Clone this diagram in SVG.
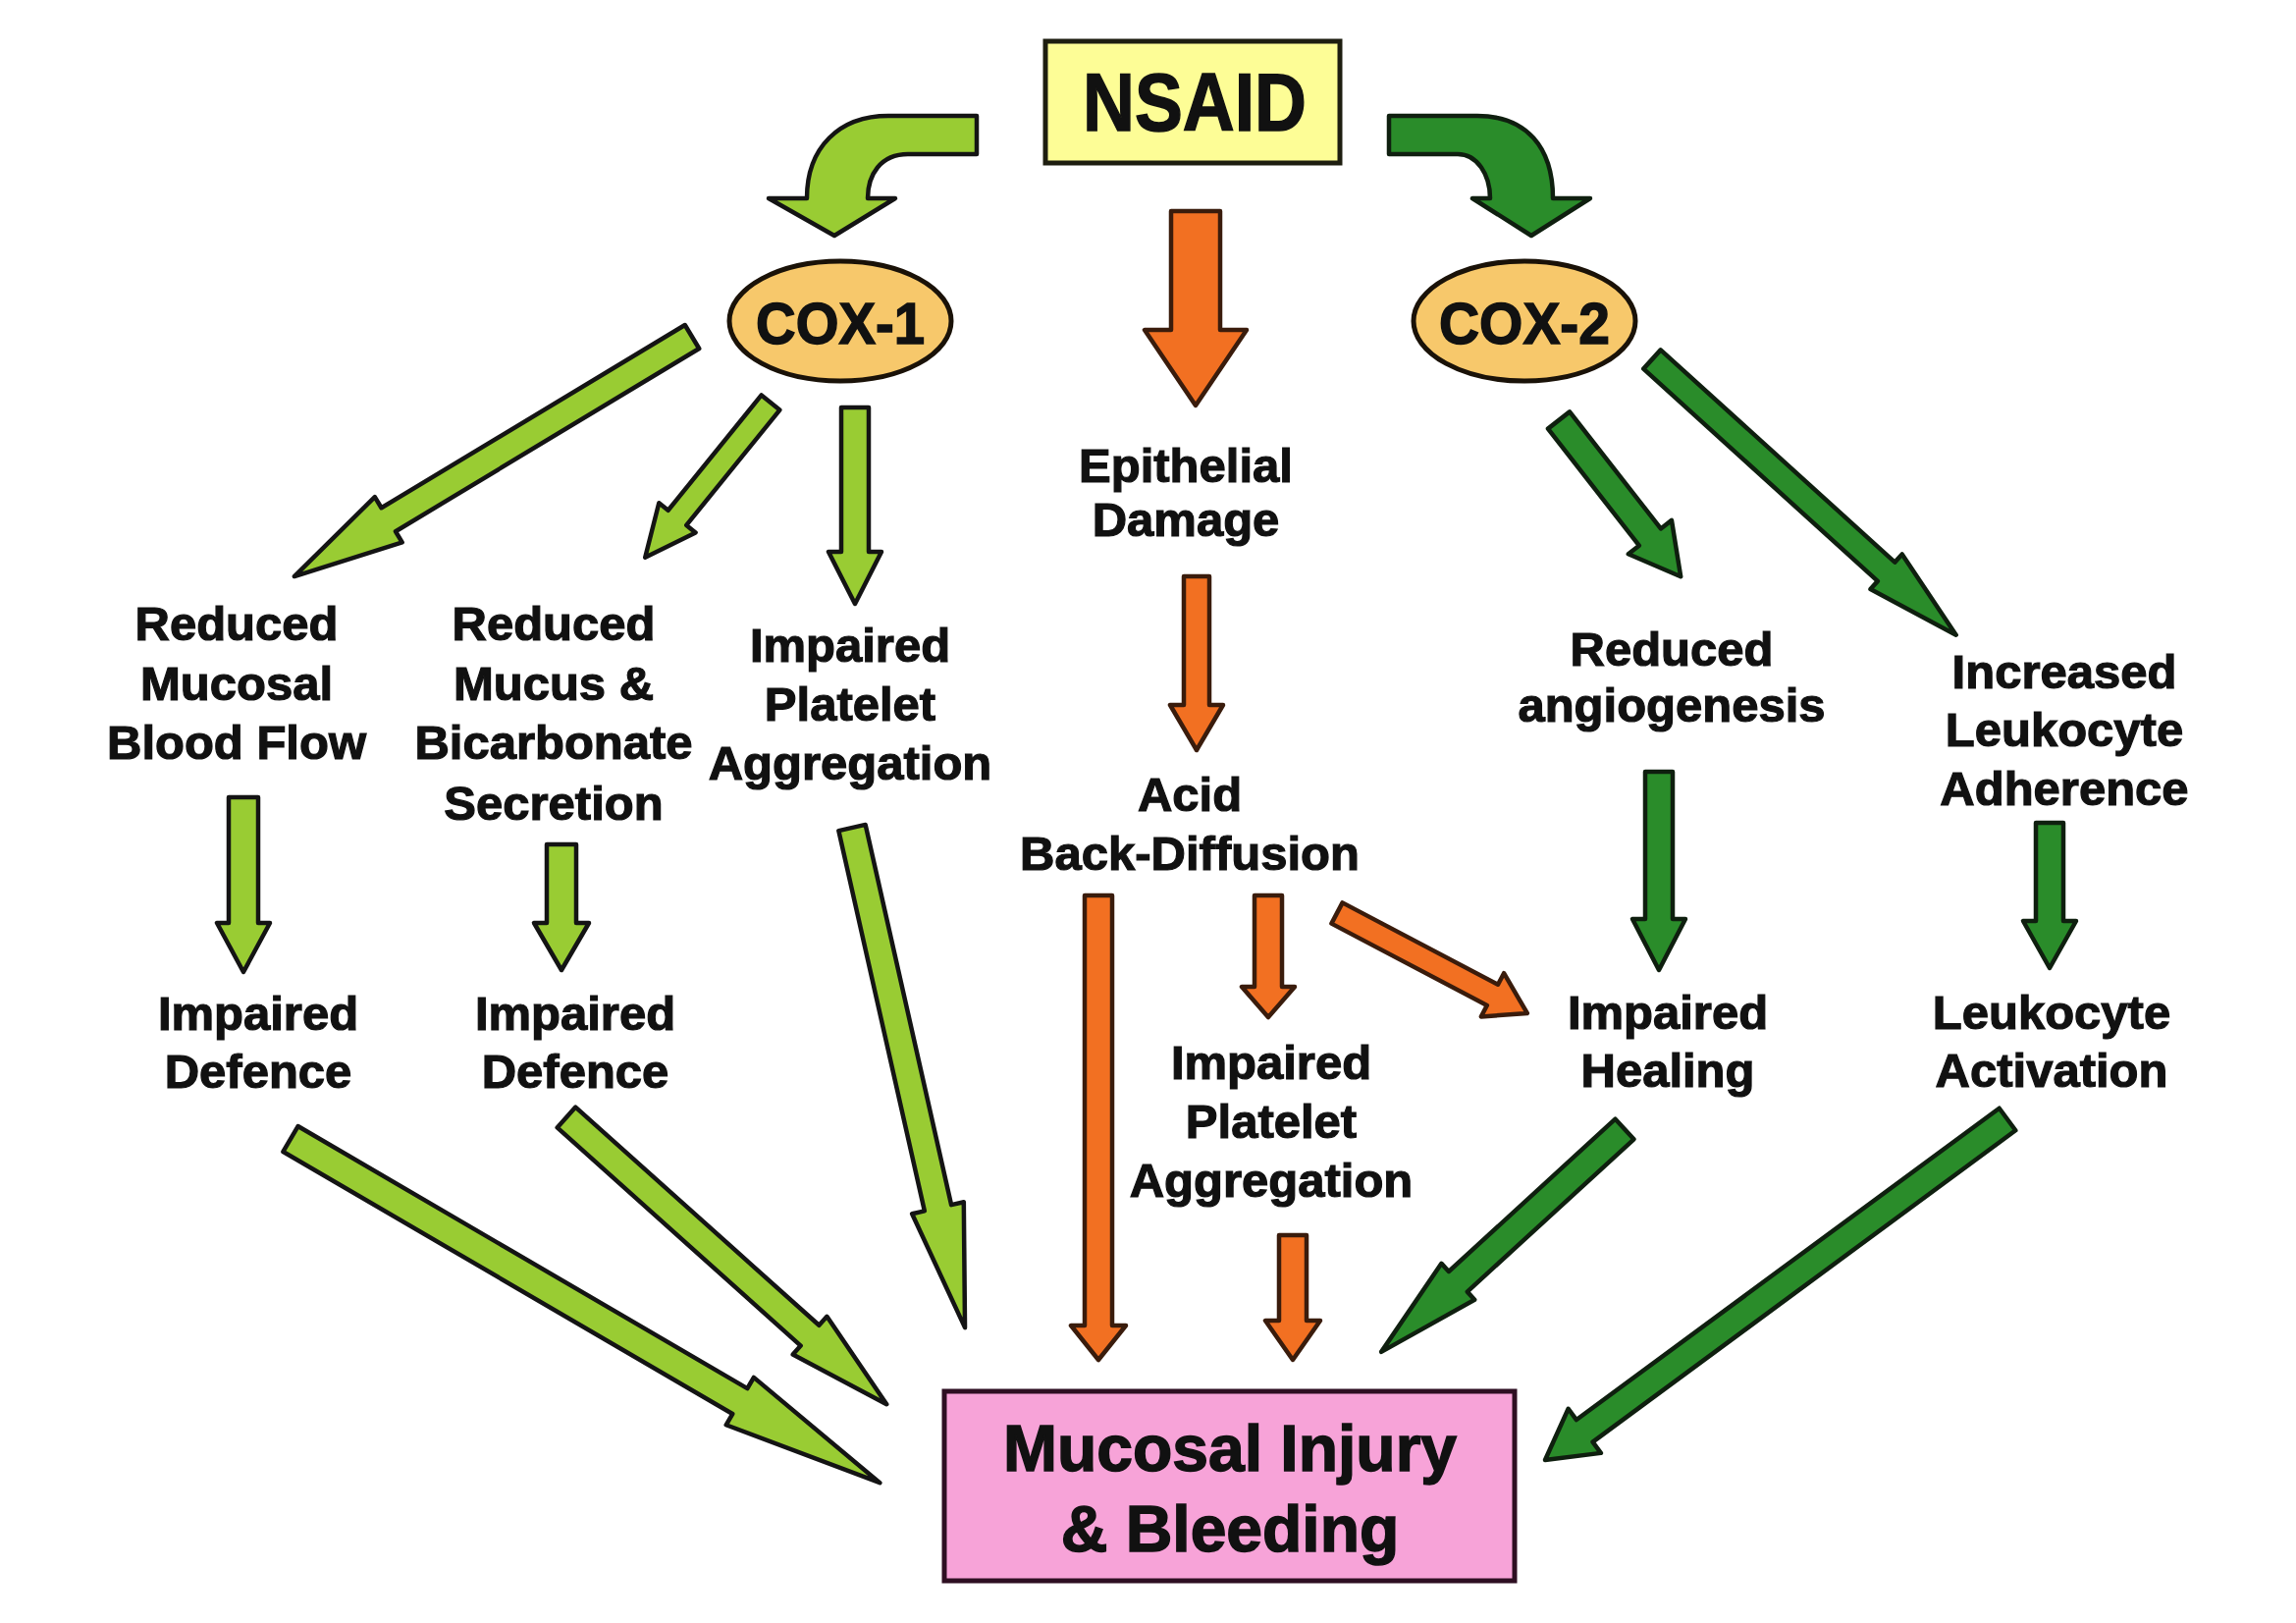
<svg xmlns="http://www.w3.org/2000/svg" width="2339" height="1653" viewBox="0 0 2339 1653">
<style>
.lg{fill:#99cc33;stroke:#141414;stroke-width:4.5;stroke-linejoin:round}
.dg{fill:#2a8c2a;stroke:#0f1f0f;stroke-width:4.5;stroke-linejoin:round}
.or{fill:#f27022;stroke:#3a1c0c;stroke-width:4.5;stroke-linejoin:round}
.t{font-family:"Liberation Sans",Arial,sans-serif;font-weight:bold;font-size:49px;text-anchor:middle;fill:#111;stroke:#111;stroke-width:1.2}
.big{font-family:"Liberation Sans",Arial,sans-serif;font-weight:bold;text-anchor:middle;fill:#111;stroke:#111;stroke-width:1.5}
.ell{fill:#f7c86b;stroke:#1a1208;stroke-width:5}
</style>
<rect width="2339" height="1653" fill="#ffffff"/>

<g id="connectors">
  <path class="lg" d="M995,118 L905,118 C855,118 822,150 822,202 L783,202 L850,240 L912,202 L884,202 C884,178 897,157 925,157 L995,157 Z"/>
  <path class="dg" d="M1415,118 L1505,118 C1555,118 1582,150 1582,202 L1620,202 L1560,240 L1500,202 L1518,202 C1518,178 1505,157 1485,157 L1415,157 Z"/>
  <polygon class="or" transform="translate(1218,215) rotate(90)" points="0,-25 121,-25 121,-52 198,0 121,52 121,25 0,25"/>
  <polygon class="lg" transform="translate(705,343) rotate(148.94)" points="0,-14 361,-14 361,-27 473,0 361,27 361,14 0,14"/>
  <polygon class="lg" transform="translate(785,410) rotate(129.01)" points="0,-12 151,-12 151,-24 203,0 151,24 151,12 0,12"/>
  <polygon class="lg" transform="translate(871,415) rotate(90)" points="0,-14 147,-14 147,-27 200,0 147,27 147,14 0,14"/>
  <polygon class="lg" transform="translate(248,812) rotate(90)" points="0,-15 128,-15 128,-27 178,0 128,27 128,15 0,15"/>
  <polygon class="lg" transform="translate(572,860) rotate(90)" points="0,-15 80,-15 80,-28 128,0 80,28 80,15 0,15"/>
  <polygon class="lg" transform="translate(868,843) rotate(77.27)" points="0,-14 397,-14 397,-27 522,0 397,27 397,14 0,14"/>
  <polygon class="lg" transform="translate(296,1160) rotate(30.26)" points="0,-15 530,-15 530,-28 695,0 530,28 530,15 0,15"/>
  <polygon class="lg" transform="translate(577,1138) rotate(41.85)" points="0,-14 333,-14 333,-26 438,0 333,26 333,14 0,14"/>
  <polygon class="or" transform="translate(1219,587) rotate(90)" points="0,-13 131,-13 131,-27 177,0 131,27 131,13 0,13"/>
  <polygon class="or" transform="translate(1119,912) rotate(90)" points="0,-14 438,-14 438,-28 473,0 438,28 438,14 0,14"/>
  <polygon class="or" transform="translate(1292,912) rotate(90)" points="0,-14 93,-14 93,-27 124,0 93,27 93,14 0,14"/>
  <polygon class="or" transform="translate(1362,930) rotate(27.74)" points="0,-12 179,-12 179,-25 219,0 179,25 179,12 0,12"/>
  <polygon class="or" transform="translate(1317,1258) rotate(90)" points="0,-14 87,-14 87,-28 127,0 87,28 87,14 0,14"/>
  <polygon class="dg" transform="translate(1588,428) rotate(52.05)" points="0,-14 151,-14 151,-28 202,0 151,28 151,14 0,14"/>
  <polygon class="dg" transform="translate(1683,366) rotate(42.19)" points="0,-13 322,-13 322,-24 418,0 322,24 322,13 0,13"/>
  <polygon class="dg" transform="translate(1690,786) rotate(90)" points="0,-14 150,-14 150,-27 202,0 150,27 150,14 0,14"/>
  <polygon class="dg" transform="translate(2088,838) rotate(90)" points="0,-14 100,-14 100,-27 148,0 100,27 100,14 0,14"/>
  <polygon class="dg" transform="translate(1655,1150) rotate(137.53)" points="0,-14 230,-14 230,-25 336,0 230,25 230,14 0,14"/>
  <polygon class="dg" transform="translate(2045,1140) rotate(143.62)" points="0,-14 535,-14 535,-28 585,0 535,28 535,14 0,14"/>
</g>

<g id="nsaid">
  <rect x="1065" y="42" width="300" height="124" fill="#fdfd96" stroke="#1e1e10" stroke-width="5"/>
  <text class="big" x="1217" y="133" font-size="84" textLength="228" lengthAdjust="spacingAndGlyphs">NSAID</text>
</g>

<g id="cox1">
  <ellipse class="ell" cx="856" cy="327" rx="113" ry="61"/>
  <text class="big" x="856" y="350" font-size="60" textLength="172" lengthAdjust="spacingAndGlyphs">COX-1</text>
</g>

<g id="cox2">
  <ellipse class="ell" cx="1553" cy="327" rx="113" ry="61"/>
  <text class="big" x="1553" y="350" font-size="60" textLength="174" lengthAdjust="spacingAndGlyphs">COX-2</text>
</g>

<g id="reduced-blood-flow">
  <text class="t" x="241" y="652">Reduced</text>
  <text class="t" x="241" y="713">Mucosal</text>
  <text class="t" x="241" y="773">Blood Flow</text>
</g>

<g id="reduced-mucus">
  <text class="t" x="564" y="652">Reduced</text>
  <text class="t" x="564" y="713">Mucus &amp;</text>
  <text class="t" x="564" y="773">Bicarbonate</text>
  <text class="t" x="564" y="835">Secretion</text>
</g>

<g id="impaired-platelet-1">
  <text class="t" x="866" y="674">Impaired</text>
  <text class="t" x="866" y="734">Platelet</text>
  <text class="t" x="866" y="794">Aggregation</text>
</g>

<g id="epithelial-damage">
  <text class="t" x="1208" y="491">Epithelial</text>
  <text class="t" x="1208" y="546">Damage</text>
</g>

<g id="acid-back-diffusion">
  <text class="t" x="1212" y="826">Acid</text>
  <text class="t" x="1212" y="886">Back-Diffusion</text>
</g>

<g id="impaired-platelet-2">
  <text class="t" x="1295" y="1099">Impaired</text>
  <text class="t" x="1295" y="1159">Platelet</text>
  <text class="t" x="1295" y="1219">Aggregation</text>
</g>

<g id="reduced-angiogenesis">
  <text class="t" x="1703" y="678">Reduced</text>
  <text class="t" x="1703" y="735">angiogenesis</text>
</g>

<g id="increased-leukocyte">
  <text class="t" x="2103" y="701">Increased</text>
  <text class="t" x="2103" y="760">Leukocyte</text>
  <text class="t" x="2103" y="820">Adherence</text>
</g>

<g id="impaired-defence-1">
  <text class="t" x="263" y="1049">Impaired</text>
  <text class="t" x="263" y="1108">Defence</text>
</g>

<g id="impaired-defence-2">
  <text class="t" x="586" y="1049">Impaired</text>
  <text class="t" x="586" y="1108">Defence</text>
</g>

<g id="impaired-healing">
  <text class="t" x="1699" y="1048">Impaired</text>
  <text class="t" x="1699" y="1107">Healing</text>
</g>

<g id="leukocyte-activation">
  <text class="t" x="2090" y="1048">Leukocyte</text>
  <text class="t" x="2090" y="1107">Activation</text>
</g>

<g id="mucosal-injury">
  <rect x="962" y="1417" width="581" height="193" fill="#f7a3d8" stroke="#2e0f22" stroke-width="5"/>
  <text class="big" x="1253" y="1498" font-size="66">Mucosal Injury</text>
  <text class="big" x="1253" y="1580" font-size="66">&amp; Bleeding</text>
</g>
</svg>
